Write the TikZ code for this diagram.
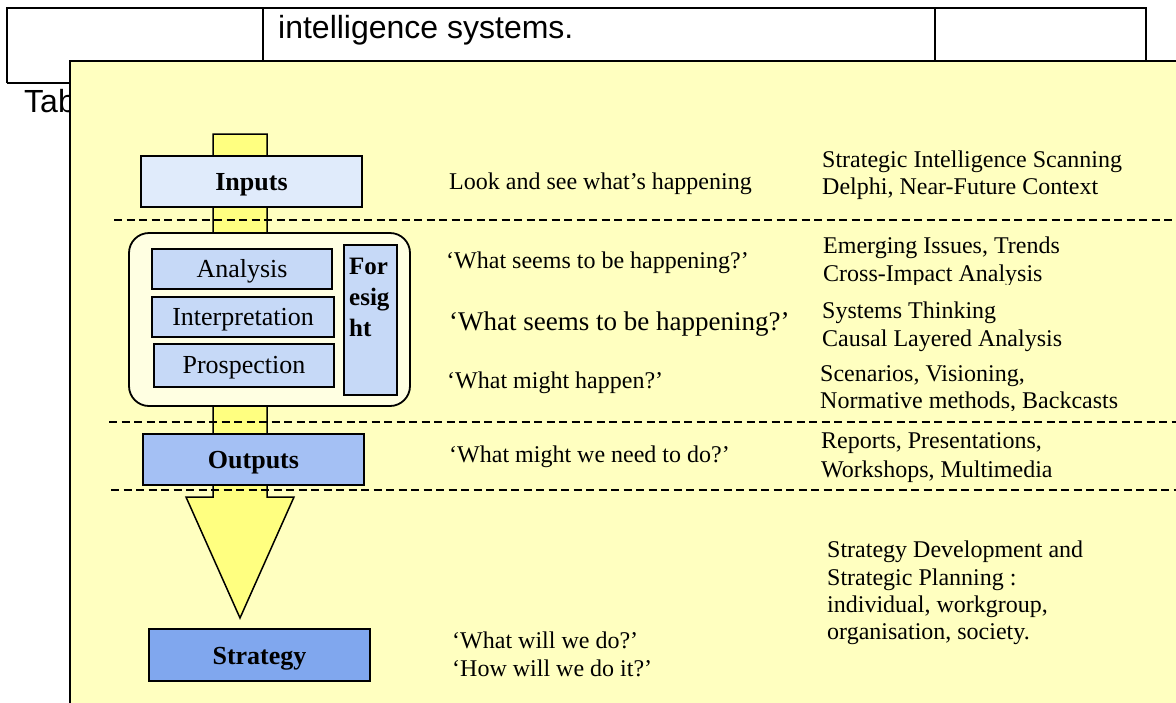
\documentclass[tikz,border=0pt]{standalone}
\usepackage{fontspec}
\setmainfont{Liberation Serif}
\newfontfamily\arialfont{Liberation Sans}
\definecolor{bgyellow}{RGB}{255,255,192}
\definecolor{stemyellow}{RGB}{255,255,128}
\definecolor{paleyellow}{RGB}{255,255,226}
\definecolor{inblue}{RGB}{224,235,251}
\definecolor{midblue}{RGB}{198,217,247}
\definecolor{outblue}{RGB}{164,192,244}
\definecolor{stratblue}{RGB}{128,167,238}
\tikzset{
  stage/.style={draw, line width=1.5pt, inner sep=0pt, text height=21pt, text depth=3pt,
    font=\fontsize{26}{30}\selectfont\bfseries},
  phase/.style={draw, line width=1.5pt, fill=midblue, inner sep=0pt, text height=20pt, text depth=4pt,
    font=\fontsize{26}{30}\selectfont},
  say/.style={anchor=base west, inner sep=0pt, font=\fontsize{24}{28}\selectfont},
  divider/.style={line width=1.6pt, dash pattern=on 8pt off 4.5pt},
}
\begin{document}
\begin{tikzpicture}[x=1pt, y=-1pt]
  \useasboundingbox (0,0) rectangle (1176,702);
  \clip (0,0) rectangle (1176,702);
  % table behind the figure
  \draw[line width=2.7pt] (7,83) -- (7,8) -- (1146,8) -- (1146,70);
  \draw[line width=2.7pt] (263,8) -- (263,70) (935,8) -- (935,70) (7,83) -- (80,83);
  \node[anchor=base west, inner sep=0pt, font=\arialfont\fontsize{32}{36}\selectfont] (cell) at (278,38) {intelligence systems.};
  \node[anchor=base west, inner sep=0pt, font=\arialfont\fontsize{32}{36}\selectfont] (caption) at (24,112) {Tab};
  % figure
  \draw[fill=bgyellow, line width=2pt] (70,61) rectangle (1200,730);
  \draw[fill=stemyellow, line width=1.5pt] (213,134) -- (267,134) -- (267,497) -- (294,497)
    -- (240,618) -- (186,497) -- (213,497) -- cycle;
  \draw[fill=paleyellow, line width=1.8pt, rounded corners=20pt] (129,233) rectangle (410,406);
  \node[stage, fill=inblue, minimum width=221pt, minimum height=51pt] (inputs) at (251.5,181.5) {Inputs};
  \node[phase, minimum width=180pt, minimum height=40pt] (analysis) at (242,269) {Analysis};
  \node[phase, minimum width=182pt, minimum height=40pt] (interp) at (243,317) {Interpretation};
  \node[phase, minimum width=180pt, minimum height=43pt] (prosp) at (244,365.5) {Prospection};
  \node[draw, line width=1.5pt, fill=midblue, minimum width=53pt, minimum height=150pt] (foresight) at (370.5,320) {};
  \node[anchor=north west, inner sep=0pt, align=left, font=\fontsize{25}{31}\selectfont\bfseries]
    (foretext) at (349,257.5) {For\\esig\\ht};
  \node[stage, fill=outblue, minimum width=221pt, minimum height=51pt] (outputs) at (253.5,459.5) {Outputs};
  \node[stage, fill=stratblue, minimum width=221pt, minimum height=52pt] (strategy) at (259.5,655) {Strategy};
  % dividers
  \draw[divider] (114,220) -- (1176,220);
  \draw[divider] (109,422) -- (1176,422);
  \draw[divider] (111,490) -- (1176,490);
  % questions
  \node[say] (look) at (449,189) {Look and see what’s happening};
  \node[say] (seems) at (446,268) {‘What seems to be happening?’};
  \node[say, font=\fontsize{27}{31}\selectfont] (seemsbig) at (449,330) {‘What seems to be happening?’};
  \node[say] (might) at (447,388) {‘What might happen?’};
  \node[say] (need) at (449,462) {‘What might we need to do?’};
  \node[say] (will) at (452,648) {‘What will we do?’};
  \node[say] (how) at (452,676) {‘How will we do it?’};
  % methods
  \foreach \txt/\x/\y [count=\i] in {Strategic Intelligence Scanning/822/167, {Delphi, Near-Future Context/822/194},
      {Emerging Issues, Trends/823/253}, Systems Thinking/822/318, Causal Layered Analysis/822/346,
      {Scenarios, Visioning,/820/381}, {Reports, Presentations,/821/448}, {Workshops, Multimedia/821/477},
      Strategy Development and/827/557, Strategic Planning :/827/585, {individual, workgroup,/827/612},
      {organisation, society./827/639}}
    \node[say] (tool\i) at (\x,\y) {\txt};
  \begin{scope}
    \clip (800,260) rectangle (1176,284);
    \node[say] (crossimpact) at (823,281) {Cross-Impact Analysis};
  \end{scope}
  \begin{scope}
    \clip (800,390) rectangle (1176,410);
    \node[say] (normative) at (820,408) {Normative methods, Backcasts};
  \end{scope}
\end{tikzpicture}
\end{document}
